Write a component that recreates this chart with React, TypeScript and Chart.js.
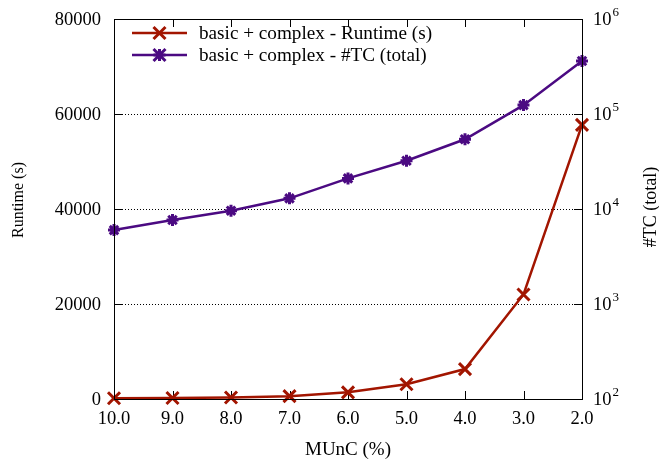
import React, { useEffect, useRef } from "react";
import { Chart, registerables } from "chart.js";

Chart.register(...registerables);

const categories = ["10.0", "9.0", "8.0", "7.0", "6.0", "5.0", "4.0", "3.0", "2.0"];
const runtimeValues = [150, 220, 320, 600, 1400, 3100, 6300, 22000, 57700];
const tcValues = [6000, 7650, 9600, 12950, 21000, 32200, 54200, 124000, 361000];
const leftTicks = [0, 20000, 40000, 60000, 80000];
const rightTickExponents = [2, 3, 4, 5, 6];
const seriesLabels = ["basic + complex - Runtime (s)", "basic + complex - #TC (total)"];
const axisTitles = { x: "MUnC (%)", y: "Runtime (s)", y2: "#TC (total)" };

const RED = "#a21500";
const PURPLE = "#4b0a82";
const FONT = "'Liberation Serif', 'Times New Roman', serif";

function drawMarker(ctx: CanvasRenderingContext2D, style: string, x: number, y: number, color: string) {
  ctx.save();
  ctx.strokeStyle = color;
  ctx.lineWidth = 3;
  ctx.lineCap = "butt";
  ctx.beginPath();
  const d = 6;
  ctx.moveTo(x - d, y - d);
  ctx.lineTo(x + d, y + d);
  ctx.moveTo(x - d, y + d);
  ctx.lineTo(x + d, y - d);
  if (style === "star") {
    const s = 6;
    ctx.moveTo(x, y - s);
    ctx.lineTo(x, y + s);
    ctx.moveTo(x - s, y);
    ctx.lineTo(x + s, y);
  }
  ctx.stroke();
  ctx.restore();
}

const framePlugin = {
  id: "frame",
  beforeDatasetsDraw(chart: any) {
    const { ctx, chartArea: a, scales } = chart;
    const y = scales.y;
    const x = scales.x;
    const y2 = scales.y2;
    const tl = 8;
    ctx.save();
    // dotted grid
    ctx.strokeStyle = "#000";
    ctx.lineWidth = 1;
    ctx.setLineDash([1, 2]);
    for (const v of leftTicks) {
      if (v === 0 || v === 80000) continue;
      const py = Math.round(y.getPixelForValue(v)) + 0.5;
      ctx.beginPath();
      ctx.moveTo(a.left + tl, py);
      ctx.lineTo(a.right - tl, py);
      ctx.stroke();
    }
    ctx.setLineDash([]);
    // ticks
    ctx.beginPath();
    for (const v of leftTicks) {
      const py = Math.round(y.getPixelForValue(v)) + 0.5;
      ctx.moveTo(a.left, py);
      ctx.lineTo(a.left + tl, py);
    }
    for (const e of rightTickExponents) {
      const py = Math.round(y2.getPixelForValue(Math.pow(10, e))) + 0.5;
      ctx.moveTo(a.right, py);
      ctx.lineTo(a.right - tl, py);
    }
    for (let i = 0; i < categories.length; i++) {
      const px = Math.round(x.getPixelForValue(i)) + 0.5;
      ctx.moveTo(px, a.bottom);
      ctx.lineTo(px, a.bottom - tl);
      ctx.moveTo(px, a.top);
      ctx.lineTo(px, a.top + tl);
    }
    ctx.stroke();
    ctx.restore();
  },
  afterDatasetsDraw(chart: any) {
    const { ctx, chartArea: a, scales } = chart;
    const y = scales.y;
    const y2 = scales.y2;
    ctx.save();
    // border
    ctx.strokeStyle = "#000";
    ctx.lineWidth = 1;
    ctx.strokeRect(Math.round(a.left) + 0.5, Math.round(a.top) + 0.5, Math.round(a.right - a.left), Math.round(a.bottom - a.top));
    ctx.fillStyle = "#000";
    // left tick labels
    ctx.textBaseline = "middle";
    ctx.textAlign = "right";
    ctx.font = `18.5px ${FONT}`;
    for (const v of leftTicks) {
      ctx.fillText(String(v), a.left - 13, y.getPixelForValue(v) + 1);
    }
    // right tick labels
    ctx.textAlign = "left";
    for (const e of rightTickExponents) {
      const py = y2.getPixelForValue(Math.pow(10, e));
      ctx.font = `18.5px ${FONT}`;
      const bx = a.right + 11;
      ctx.fillText("10", bx, py + 1);
      const w = ctx.measureText("10").width;
      ctx.font = `13px ${FONT}`;
      ctx.fillText(String(e), bx + w + 1, py - 6);
    }
    // axis titles
    ctx.textAlign = "center";
    ctx.textBaseline = "alphabetic";
    ctx.font = `19px ${FONT}`;
    ctx.fillText(axisTitles.x, (a.left + a.right) / 2, 455);
    ctx.textBaseline = "middle";
    ctx.save();
    ctx.font = `16px ${FONT}`;
    ctx.translate(19, 200);
    ctx.rotate(-Math.PI / 2);
    ctx.fillText(axisTitles.y, 0, 0);
    ctx.restore();
    ctx.save();
    ctx.font = `18px ${FONT}`;
    ctx.translate(651, 207);
    ctx.rotate(-Math.PI / 2);
    ctx.fillText(axisTitles.y2, 0, 0);
    ctx.restore();
    // legend
    const colors = [RED, PURPLE];
    const styles = ["crossRot", "star"];
    for (let i = 0; i < 2; i++) {
      const ly = 33 + i * 22;
      ctx.strokeStyle = colors[i];
      ctx.lineWidth = 2.5;
      ctx.beginPath();
      ctx.moveTo(132, ly);
      ctx.lineTo(187, ly);
      ctx.stroke();
      drawMarker(ctx, styles[i], 159.5, ly, colors[i]);
      ctx.fillStyle = "#000";
      ctx.textAlign = "left";
      ctx.font = `19.2px ${FONT}`;
      ctx.fillText(seriesLabels[i], 199, ly + 1);
    }
    ctx.restore();
  },
};

export default function App() {
  const ref = useRef<HTMLCanvasElement | null>(null);
  useEffect(() => {
    document.body.style.margin = "0";
    if (!ref.current) return;
    const chart = new Chart(ref.current, {
      type: "line",
      data: {
        labels: categories,
        datasets: [
          {
            label: seriesLabels[0],
            data: runtimeValues,
            yAxisID: "y",
            borderColor: RED,
            backgroundColor: RED,
            borderWidth: 2.5,
            pointStyle: "crossRot",
            pointRadius: 8.5,
            pointBorderWidth: 3,
            pointBorderColor: RED,
            tension: 0,
            clip: false as any,
          },
          {
            label: seriesLabels[1],
            data: tcValues,
            yAxisID: "y2",
            borderColor: PURPLE,
            backgroundColor: PURPLE,
            borderWidth: 2.5,
            pointStyle: "star",
            pointRadius: 6,
            pointBorderWidth: 3,
            pointBorderColor: PURPLE,
            tension: 0,
            clip: false as any,
          },
        ],
      },
      options: {
        animation: false,
        responsive: false,
        layout: { padding: { top: 19, left: 0, right: 0, bottom: 0 } },
        plugins: { legend: { display: false }, tooltip: { enabled: false } },
        scales: {
          x: {
            type: "category",
            offset: false,
            grid: { display: false, drawTicks: false },
            border: { display: false },
            ticks: { color: "#000", font: { family: FONT, size: 18.5 }, padding: 9, maxRotation: 0, autoSkip: false },
            afterFit: (s: any) => { s.height = 61; },
          },
          y: {
            type: "linear",
            position: "left",
            min: 0,
            max: 80000,
            grid: { display: false, drawTicks: false },
            border: { display: false },
            ticks: { display: false },
            afterFit: (s: any) => { s.width = 114; },
          },
          y2: {
            type: "logarithmic",
            position: "right",
            min: 100,
            max: 1000000,
            grid: { display: false, drawTicks: false },
            border: { display: false },
            ticks: { display: false },
            afterFit: (s: any) => { s.width = 77; },
          },
        },
      },
      plugins: [framePlugin],
    });
    return () => chart.destroy();
  }, []);
  return (
    <div style={{ width: 659, height: 460 }}>
      <canvas ref={ref} width={659} height={460} style={{ display: "block" }} />
    </div>
  );
}
